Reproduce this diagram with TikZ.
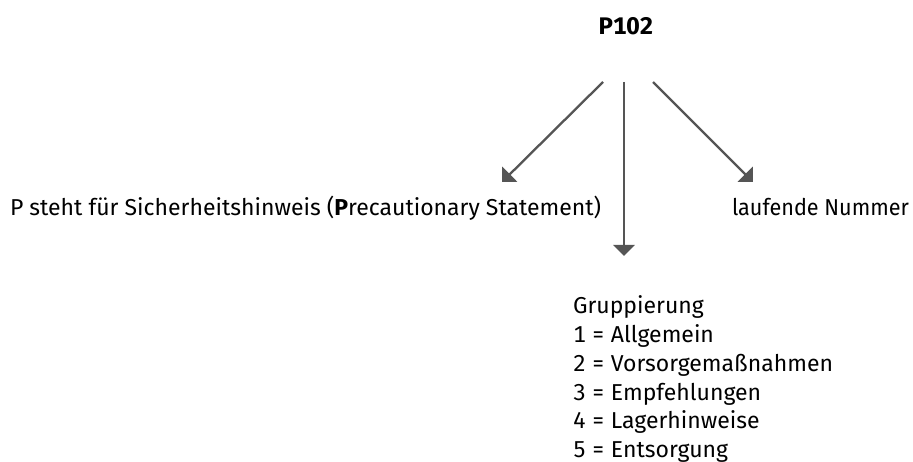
\documentclass[tikz,border=0pt]{standalone}
\usepackage{fontspec}
\setmainfont{Fira Sans}[Numbers=Monospaced]
\newfontfamily\narrowfont{Fira Sans}[FakeStretch=0.94]
\usetikzlibrary{arrows.meta}
\definecolor{arrowgray}{HTML}{555555}
\begin{document}
\begin{tikzpicture}[x=1pt,y=-1pt,
  lbl/.style={inner sep=0pt,outer sep=0pt,anchor=base west,font=\fontsize{23}{28}\selectfont},
  conn/.style={draw=arrowgray,line width=2.3pt,-{Triangle[width=21pt,length=11pt]}}]
\useasboundingbox (0,0) rectangle (913,462);
\node[inner sep=0pt,anchor=base,font=\fontsize{24}{28}\selectfont\bfseries] (title) at (626,35) {P102};
\node[lbl] (prec) at (10,216) {P steht für Sicherheitshinweis (\textbf{P}recautionary Statement)};
\node[lbl,font=\fontsize{23}{28}\narrowfont] (lfd) at (732,216) {laufende Nummer};
\node[lbl] (g0) at (573,313) {Gruppierung};
\node[lbl] (g1) at (573,342) {1 = Allgemein};
\node[lbl] (g2) at (573,371) {2 = Vorsorgemaßnahmen};
\node[lbl] (g3) at (573,400) {3 = Empfehlungen};
\node[lbl] (g4) at (573,428) {4 = Lagerhinweise};
\node[lbl] (g5) at (573,457) {5 = Entsorgung};
\coordinate (sl) at (603,82);
\coordinate (sm) at (624,82);
\coordinate (sr) at (653,82);
\coordinate (el) at (502,182);
\coordinate (em) at (624,256);
\coordinate (er) at (753,182);
\draw[conn] (sl) -- (el);
\draw[conn] (sm) -- (em);
\draw[conn] (sr) -- (er);
\end{tikzpicture}
\end{document}
